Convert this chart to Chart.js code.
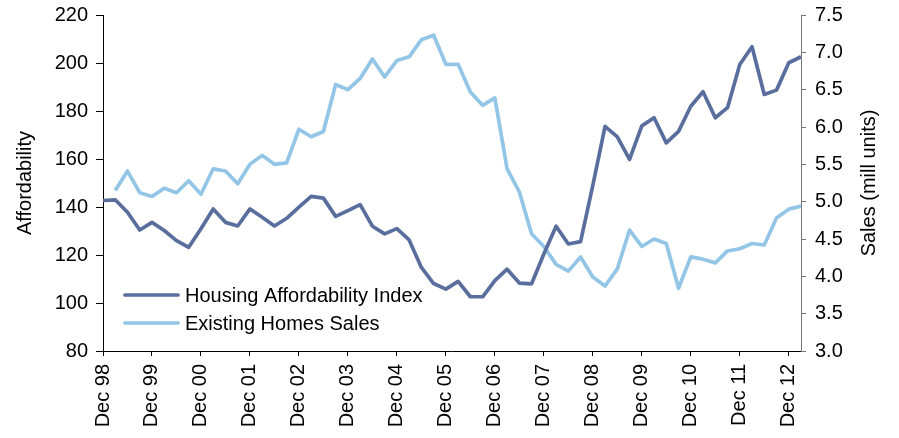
<!DOCTYPE html>
<html>
<head>
<meta charset="utf-8">
<script src="https://cdn.jsdelivr.net/npm/chart.js@4"></script>
<style>
  html, body { margin: 0; padding: 0; background: #fff; }
  #wrap { width: 899px; height: 438px; position: relative; }
</style>
</head>
<body>
<div id="wrap"><canvas id="chart"></canvas></div>
<script>
const quarters = [
  'Dec 98',
  'Mar 99', 'Jun 99', 'Sep 99', 'Dec 99',
  'Mar 00', 'Jun 00', 'Sep 00', 'Dec 00',
  'Mar 01', 'Jun 01', 'Sep 01', 'Dec 01',
  'Mar 02', 'Jun 02', 'Sep 02', 'Dec 02',
  'Mar 03', 'Jun 03', 'Sep 03', 'Dec 03',
  'Mar 04', 'Jun 04', 'Sep 04', 'Dec 04',
  'Mar 05', 'Jun 05', 'Sep 05', 'Dec 05',
  'Mar 06', 'Jun 06', 'Sep 06', 'Dec 06',
  'Mar 07', 'Jun 07', 'Sep 07', 'Dec 07',
  'Mar 08', 'Jun 08', 'Sep 08', 'Dec 08',
  'Mar 09', 'Jun 09', 'Sep 09', 'Dec 09',
  'Mar 10', 'Jun 10', 'Sep 10', 'Dec 10',
  'Mar 11', 'Jun 11', 'Sep 11', 'Dec 11',
  'Mar 12', 'Jun 12', 'Sep 12', 'Dec 12',
  'Mar 13'
];

// Housing affordability index (left axis)
const affordability = [
  142.7,
  143.0, 137.8, 130.4, 133.6,
  130.2, 126.0, 123.2, 130.9,
  139.2, 133.6, 132.1, 139.2,
  135.7, 132.1, 135.3, 139.9,
  144.4, 143.7, 136.1, 138.5,
  141.0, 132.0, 128.8, 131.0,
  126.3, 114.8, 108.1, 105.8,
  109.0, 102.6, 102.6, 109.3,
  114.1, 108.3, 108.0, 120.4,
  132.0, 124.6, 125.6, 149.0,
  173.6, 169.2, 159.8, 173.8,
  177.2, 166.7, 171.5, 182.0,
  188.0, 177.2, 181.4, 199.4,
  206.8, 186.9, 188.7, 200.1,
  202.6
];

// Existing home sales, mill units (right axis)
const homeSales = [
  null,
  5.15, 5.41, 5.12, 5.07,
  5.18, 5.12, 5.28, 5.10,
  5.44, 5.41, 5.24, 5.50,
  5.62, 5.50, 5.52, 5.97,
  5.87, 5.94, 6.57, 6.50,
  6.65, 6.91, 6.67, 6.89,
  6.94, 7.17, 7.23, 6.84,
  6.84, 6.47, 6.29, 6.39,
  5.44, 5.13, 4.57, 4.40,
  4.16, 4.07, 4.26, 3.99,
  3.87, 4.10, 4.62, 4.40,
  4.50, 4.44, 3.84, 4.26,
  4.23, 4.18, 4.34, 4.37,
  4.44, 4.42, 4.78, 4.90,
  4.94
];

const leftTicks = [80, 100, 120, 140, 160, 180, 200, 220];
const rightTicks = [3.0, 3.5, 4.0, 4.5, 5.0, 5.5, 6.0, 6.5, 7.0, 7.5];

const FONT = 'Liberation Sans, Arial, sans-serif';
const TXT = '#000';

// legend inside the plot, lower left, and the right-hand title read bottom-up
const extras = {
  id: 'extras',
  afterDraw(chart) {
    const { ctx, chartArea } = chart;
    ctx.save();
    ctx.font = '20px ' + FONT;
    ctx.fillStyle = TXT;
    ctx.textBaseline = 'middle';
    chart.data.datasets.forEach((ds, i) => {
      const y = chartArea.bottom - 56 + i * 28;
      const x = chartArea.left + 22;
      ctx.strokeStyle = ds.borderColor;
      ctx.lineWidth = ds.borderWidth;
      ctx.lineCap = 'round';
      ctx.beginPath();
      ctx.moveTo(x, y);
      ctx.lineTo(x + 53, y);
      ctx.stroke();
      ctx.fillText(ds.label, x + 60, y + 1);
    });
    ctx.translate(869, (chartArea.top + chartArea.bottom) / 2);
    ctx.rotate(-Math.PI / 2);
    ctx.textAlign = 'center';
    ctx.fillText('Sales (mill units)', 0, 0);
    ctx.restore();
  }
};

const fitY = (w) => (scale) => {
  scale.width = w;
  scale.paddingTop = 0;
  scale.paddingBottom = 0;
};

new Chart(document.getElementById('chart'), {
  type: 'line',
  data: {
    labels: quarters,
    datasets: [
      {
        label: 'Housing Affordability Index',
        data: affordability,
        yAxisID: 'y',
        borderColor: '#5a6e9e',
        borderWidth: 3.7,
        pointRadius: 0,
        tension: 0,
        borderJoinStyle: 'round'
      },
      {
        label: 'Existing Homes Sales',
        data: homeSales,
        yAxisID: 'y1',
        borderColor: '#93c6e6',
        borderWidth: 3.7,
        pointRadius: 0,
        tension: 0,
        borderJoinStyle: 'round'
      }
    ]
  },
  options: {
    responsive: true,
    maintainAspectRatio: false,
    animation: false,
    layout: { padding: { top: 15, right: 0, bottom: 0, left: 0 } },
    plugins: {
      legend: { display: false },
      tooltip: { enabled: false }
    },
    scales: {
      x: {
        offset: false,
        afterFit: (scale) => { scale.height = 87; },
        border: { display: true, color: '#000', width: 1 },
        grid: { drawOnChartArea: false, drawTicks: true, tickLength: 5, color: '#000' },
        ticks: {
          autoSkip: false,
          minRotation: 90,
          maxRotation: 90,
          padding: 8,
          color: TXT,
          font: { family: FONT, size: 20 },
          callback: function (value) {
            const lab = quarters[value];
            return lab.startsWith('Dec') ? lab : null;
          }
        }
      },
      y: {
        position: 'left',
        min: leftTicks[0],
        max: leftTicks[leftTicks.length - 1],
        afterFit: fitY(103),
        afterBuildTicks: (scale) => { scale.ticks = leftTicks.map(v => ({ value: v })); },
        border: { display: true, color: '#000', width: 1 },
        grid: { drawOnChartArea: false, drawTicks: true, tickLength: 7, color: '#000' },
        ticks: {
          padding: 8,
          color: TXT,
          font: { family: FONT, size: 20 }
        },
        title: {
          display: true,
          text: 'Affordability',
          color: TXT,
          font: { family: FONT, size: 20 },
          padding: { top: 13, bottom: 0 }
        }
      },
      y1: {
        position: 'right',
        min: rightTicks[0],
        max: rightTicks[rightTicks.length - 1],
        afterFit: fitY(98),
        afterBuildTicks: (scale) => { scale.ticks = rightTicks.map(v => ({ value: v })); },
        border: { display: true, color: '#777', width: 1 },
        grid: { drawOnChartArea: false, drawTicks: true, tickLength: 5, color: '#777' },
        ticks: {
          padding: 9,
          color: TXT,
          font: { family: FONT, size: 20 },
          callback: (v) => Number(v).toFixed(1)
        }
      }
    }
  },
  plugins: [extras]
});
</script>
</body>
</html>
